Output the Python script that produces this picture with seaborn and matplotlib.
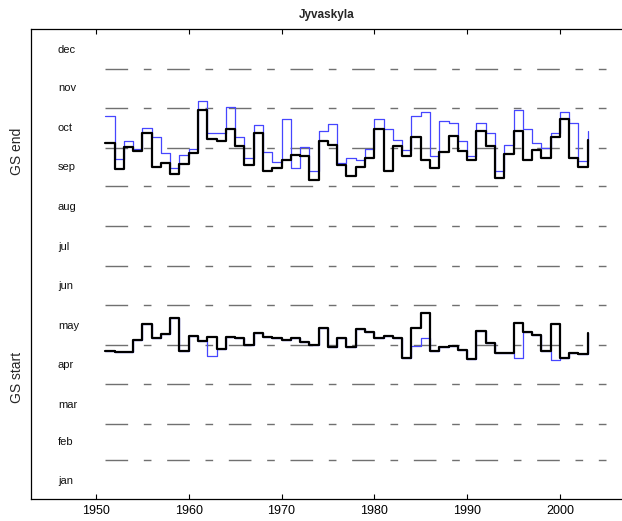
import matplotlib
matplotlib.use("Agg")
import matplotlib.pyplot as plt
import numpy as np
import pandas as pd
import seaborn as sns

# Growing season end / start (day of year), Jyvaskyla 1951-2003
years = list(range(1951, 2004))

gs_end_black = [277.9, 257.5, 274.8, 271.7, 285.2, 259.3, 261.9, 253.7, 261.4, 269.7,
                303.3, 280.5, 279.5, 288.5, 275.4, 260.6, 285.2, 256.2, 258.6, 264.5,
                268.6, 267.6, 249.0, 279.5, 275.9, 260.6, 252.1, 258.8, 266.3, 288.8,
                256.2, 275.4, 267.6, 282.6, 264.5, 258.6, 271.0, 283.4, 271.7, 264.5,
                287.2, 275.6, 250.8, 268.9, 287.2, 264.5, 272.3, 266.3, 282.6, 296.0,
                266.3, 259.3, 280.0]

gs_end_blue = [298.9, 265.5, 279.2, 273.3, 289.6, 282.6, 269.7, 258.6, 268.4, 273.3,
               310.5, 285.7, 285.7, 305.8, 282.6, 266.3, 291.9, 271.0, 262.7, 296.3,
               258.1, 274.3, 255.7, 287.2, 292.7, 261.9, 266.3, 264.5, 272.8, 296.3,
               288.8, 280.0, 272.3, 298.9, 301.7, 267.6, 294.7, 293.4, 279.5, 267.6,
               293.4, 285.2, 256.2, 275.9, 303.3, 288.8, 278.0, 273.6, 285.7, 301.7,
               293.4, 263.7, 287.0]

gs_start_black = [116.7, 115.4, 115.4, 125.0, 137.1, 126.3, 129.4, 142.3, 116.5, 128.4,
                  124.2, 127.6, 118.0, 127.6, 126.8, 121.1, 130.7, 127.6, 126.8, 125.0,
                  126.8, 123.7, 121.1, 134.6, 119.8, 126.8, 119.8, 133.5, 131.5, 126.8,
                  128.4, 126.8, 110.8, 134.6, 146.2, 116.8, 119.8, 120.6, 117.3, 110.0,
                  132.3, 122.4, 114.7, 114.7, 138.5, 131.5, 128.9, 116.5, 137.2, 110.8,
                  114.7, 113.9, 130.2]

gs_start_blue = list(gs_start_black)
gs_start_blue[1962 - 1951] = 112.6
gs_start_blue[1984 - 1951] = 120.6
gs_start_blue[1985 - 1951] = 126.3
gs_start_blue[1995 - 1951] = 111.3
gs_start_blue[1999 - 1951] = 109.5

months = ["jan", "feb", "mar", "apr", "may", "jun", "jul", "aug", "sep", "oct", "nov", "dec"]
month_mid = [16, 46, 75, 106, 136, 167, 197, 228, 259, 289, 320, 350]
month_start = [32, 60, 91, 121, 152, 182, 213, 244, 274, 305, 335]

df = pd.DataFrame({"year": years, "end_k": gs_end_black, "end_b": gs_end_blue,
                   "start_k": gs_start_black, "start_b": gs_start_blue})

sns.set_theme(style="white")
plt.rcParams["font.family"] = ["Liberation Sans", "DejaVu Sans"]

fig = plt.figure(figsize=(6.22, 5.21), dpi=100)
ax = fig.add_axes([31 / 622, 22 / 521, 592 / 622, 469.7 / 521])

# month boundaries
ax.hlines(month_start, 1951, 2005, colors="#707070", linewidth=1.0,
          linestyles=[(0, (16.3, 11.3, 5.5, 11.3))])

for col, c, lw in [("end_b", "#4646ff", 0.9), ("start_b", "#4646ff", 0.9),
                   ("end_k", "black", 1.6), ("start_k", "black", 1.6)]:
    sns.lineplot(data=df, x="year", y=col, drawstyle="steps-post", color=c,
                 linewidth=lw, estimator=None, ax=ax)

for m, d in zip(months, month_mid):
    ax.text(1945.9, d, m, fontsize=8, va="center", ha="left", color="#111111")

ax.set_xlim(1943.0, 2006.8)
ax.set_ylim(1.8, 365.8)
ax.set_xticks(range(1950, 2001, 10))
ax.set_yticks([])
ax.set_xlabel("")
ax.set_ylabel("")
ax.tick_params(axis="x", direction="in", top=True, bottom=True, length=3.5,
               width=0.8, labelsize=9, pad=4, colors="black")
for s in ax.spines.values():
    s.set_color("black")
    s.set_linewidth(0.9)

ax.set_title("Jyvaskyla", fontsize=8.5, fontweight="bold", pad=8)

fig.text(17 / 622, 1 - 151 / 521, "GS end", rotation=90, fontsize=10,
         ha="center", va="center")
fig.text(17 / 622, 1 - 377 / 521, "GS start", rotation=90, fontsize=10,
         ha="center", va="center")

fig.savefig("out.png", dpi=100)
